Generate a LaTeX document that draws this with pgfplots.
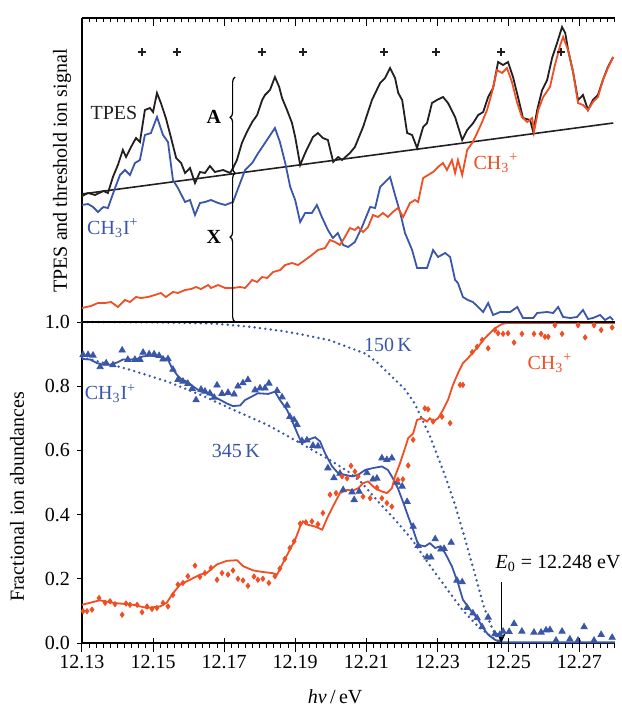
\documentclass[border=0pt]{standalone}
\usepackage{fontspec}
\setmainfont{Liberation Serif}
\usepackage{pgfplots}
\pgfplotsset{compat=1.18}
\usetikzlibrary{decorations.pathreplacing,arrows.meta}

\definecolor{cblue}{RGB}{58,86,168}
\definecolor{cred}{RGB}{240,78,35}
\definecolor{cblack}{RGB}{35,31,32}

\pgfplotsset{
  panel/.style={
    scale only axis, width=266.5pt,
    xmin=12.13, xmax=12.28, enlargelimits=false, clip=false,
    tick style={line width=0.5pt, black},
    xtick={12.13,12.15,12.17,12.19,12.21,12.23,12.25,12.27},
    minor xtick={12.130,12.132,...,12.2805},
    tick label style={font=\fontsize{10}{12}\selectfont},
    label style={font=\fontsize{10}{12}\selectfont},
    /pgf/number format/assume math mode=true,
  },
  noarrows/.style={
    axis line style={-, line width=0.7pt},
    every outer x axis line/.append style={-},
    every outer y axis line/.append style={-},
    every inner x axis line/.append style={-},
    every inner y axis line/.append style={-},
  },
  dotline/.style={cblue, line width=1.35pt, line cap=round, dash pattern=on 0pt off 2.7pt},
  fitline/.style={line width=0.9pt},
}

\begin{document}
\begin{tikzpicture}
% ---- lower panel: fractional abundances
\begin{axis}[panel, at={(0,0)}, anchor=south west, height=160.5pt,
  ymin=0, ymax=1,
  axis lines=left, noarrows,
  xtick align=outside, ytick align=outside,
  major tick length=2.5pt, minor tick length=2.5pt,
  ytick={0,0.2,0.4,0.6,0.8,1.0},
  xticklabel style={/pgf/number format/.cd, fixed, fixed zerofill, precision=2},
  yticklabel style={/pgf/number format/.cd, fixed, fixed zerofill, precision=1},
  xlabel={{\itshape hν}\,/\,eV},
  xlabel style={at={(axis description cs:0.475,-0.168)}, anchor=center},
  ylabel={Fractional ion abundances},
  ylabel style={at={(axis description cs:-0.122,0.455)}, anchor=center},
]
\addplot[dotline] coordinates {
  (12.1300,1.000) (12.1500,0.999) (12.1600,0.997) (12.1674,0.995) (12.1773,0.985)
  (12.1863,0.972) (12.1914,0.962) (12.1998,0.943) (12.2040,0.925) (12.2097,0.902)
  (12.2133,0.872) (12.2172,0.830) (12.2209,0.790) (12.2237,0.745) (12.2279,0.645)
  (12.2322,0.520) (12.2350,0.430) (12.2379,0.320) (12.2407,0.210) (12.2429,0.120)
  (12.2449,0.060) (12.2468,0.015) (12.2480,0.000) };
\addplot[dotline] coordinates {
  (12.1300,0.890) (12.1427,0.854) (12.1539,0.815) (12.1632,0.774) (12.1725,0.727)
  (12.1821,0.680) (12.1914,0.623) (12.1998,0.570) (12.2049,0.534) (12.2088,0.498)
  (12.2133,0.441) (12.2181,0.384) (12.2229,0.322) (12.2274,0.249) (12.2322,0.176)
  (12.2370,0.104) (12.2407,0.060) (12.2434,0.035) (12.2462,0.012) (12.2480,0.000) };
\addplot[cblue, fitline] coordinates {
  (12.1300,0.885) (12.1323,0.883) (12.1342,0.872) (12.1360,0.867) (12.1379,0.867)
  (12.1399,0.874) (12.1415,0.883) (12.1435,0.883) (12.1455,0.885) (12.1472,0.893)
  (12.1491,0.895) (12.1511,0.893) (12.1528,0.888) (12.1542,0.883) (12.1553,0.857)
  (12.1567,0.836) (12.1581,0.820) (12.1595,0.815) (12.1612,0.800) (12.1632,0.784)
  (12.1652,0.779) (12.1669,0.769) (12.1688,0.758) (12.1708,0.746) (12.1725,0.738)
  (12.1745,0.740) (12.1759,0.757) (12.1773,0.765) (12.1795,0.778) (12.1824,0.776)
  (12.1843,0.783) (12.1857,0.757) (12.1877,0.726) (12.1894,0.685) (12.1908,0.648)
  (12.1919,0.622) (12.1936,0.633) (12.1956,0.641) (12.1970,0.628) (12.1984,0.591)
  (12.2004,0.550) (12.2021,0.529) (12.2040,0.524) (12.2060,0.519) (12.2077,0.524)
  (12.2097,0.539) (12.2119,0.545) (12.2144,0.550) (12.2161,0.539) (12.2175,0.513)
  (12.2189,0.482) (12.2203,0.441) (12.2218,0.394) (12.2232,0.353) (12.2246,0.306)
  (12.2265,0.301) (12.2279,0.311) (12.2294,0.296) (12.2308,0.301) (12.2322,0.280)
  (12.2341,0.239) (12.2358,0.187) (12.2372,0.135) (12.2392,0.104) (12.2412,0.078)
  (12.2429,0.047) (12.2443,0.026) (12.2462,0.010) (12.2482,0.002) (12.2800,0.002) };
\addplot[cred, fitline] coordinates {
  (12.1300,0.119) (12.1350,0.133) (12.1388,0.125) (12.1444,0.119) (12.1483,0.109)
  (12.1520,0.114) (12.1538,0.125) (12.1557,0.156) (12.1576,0.182) (12.1604,0.197)
  (12.1632,0.213) (12.1651,0.218) (12.1680,0.245) (12.1708,0.256) (12.1736,0.258)
  (12.1754,0.239) (12.1782,0.226) (12.1810,0.221) (12.1835,0.218) (12.1849,0.213)
  (12.1863,0.244) (12.1880,0.280) (12.1900,0.322) (12.1914,0.363) (12.1922,0.379)
  (12.1936,0.368) (12.1956,0.363) (12.1976,0.353) (12.1992,0.394) (12.2006,0.425)
  (12.2026,0.467) (12.2046,0.477) (12.2063,0.475) (12.2077,0.482) (12.2091,0.498)
  (12.2105,0.503) (12.2125,0.482) (12.2144,0.472) (12.2158,0.467) (12.2172,0.482)
  (12.2181,0.519) (12.2195,0.560) (12.2209,0.607) (12.2218,0.638) (12.2232,0.653)
  (12.2243,0.695) (12.2257,0.700) (12.2271,0.690) (12.2279,0.700) (12.2288,0.690)
  (12.2302,0.700) (12.2316,0.726) (12.2330,0.757) (12.2344,0.804) (12.2358,0.840)
  (12.2372,0.872) (12.2386,0.887) (12.2400,0.905) (12.2415,0.923) (12.2429,0.944)
  (12.2443,0.960) (12.2462,0.980) (12.2482,0.994) (12.2499,0.997) (12.2800,0.997) };
% CH3I+ points
\addplot[only marks, mark=triangle*, mark size=1.8pt, cblue] coordinates {
  (12.1303,0.898) (12.1317,0.898) (12.1331,0.896) (12.1351,0.860) (12.1368,0.872)
  (12.1387,0.866) (12.1413,0.912) (12.1429,0.883) (12.1449,0.883) (12.1463,0.883)
  (12.1472,0.905) (12.1489,0.900) (12.1503,0.900) (12.1517,0.895) (12.1528,0.884)
  (12.1542,0.885) (12.1556,0.852) (12.1570,0.820) (12.1584,0.815) (12.1598,0.808)
  (12.1610,0.792) (12.1621,0.757) (12.1635,0.790) (12.1646,0.784) (12.1660,0.778)
  (12.1672,0.765) (12.1680,0.803) (12.1694,0.777) (12.1711,0.780) (12.1728,0.775)
  (12.1739,0.800) (12.1753,0.810) (12.1767,0.820) (12.1787,0.788) (12.1801,0.794)
  (12.1815,0.794) (12.1826,0.809) (12.1849,0.786) (12.1863,0.766) (12.1877,0.740)
  (12.1885,0.705) (12.1897,0.695) (12.1905,0.680) (12.1919,0.630) (12.1933,0.632)
  (12.1950,0.615) (12.1964,0.613) (12.1992,0.545) (12.2009,0.514) (12.2026,0.528)
  (12.2035,0.477) (12.2060,0.470) (12.2066,0.446) (12.2080,0.472) (12.2102,0.530)
  (12.2119,0.510) (12.2130,0.513) (12.2144,0.576) (12.2158,0.571) (12.2172,0.576)
  (12.2187,0.500) (12.2201,0.488) (12.2215,0.440) (12.2232,0.363) (12.2246,0.303)
  (12.2271,0.267) (12.2282,0.267) (12.2294,0.324) (12.2310,0.292) (12.2319,0.294)
  (12.2339,0.313) (12.2355,0.195) (12.2370,0.190) (12.2384,0.110) (12.2400,0.093)
  (12.2412,0.078) (12.2426,0.050) (12.2443,0.080) (12.2462,0.028) (12.2476,0.026)
  (12.2485,0.036) (12.2502,0.035) (12.2516,0.060) (12.2538,0.036) (12.2572,0.033)
  (12.2592,0.033) (12.2606,0.040) (12.2617,0.041) (12.2634,0.008) (12.2651,0.036)
  (12.2673,0.012) (12.2696,0.008) (12.2713,0.050) (12.2741,0.008) (12.2761,0.026)
  (12.2792,0.017) };
% CH3+ points
\addplot[only marks, mark=diamond*, mark size=1.3pt, cred] coordinates {
  (12.1303,0.099) (12.1314,0.099) (12.1328,0.104) (12.1348,0.140) (12.1365,0.125)
  (12.1379,0.130) (12.1393,0.121) (12.1413,0.088) (12.1424,0.123) (12.1435,0.119)
  (12.1455,0.119) (12.1469,0.096) (12.1483,0.114) (12.1497,0.106) (12.1511,0.109)
  (12.1528,0.125) (12.1542,0.114) (12.1556,0.150) (12.1570,0.182) (12.1584,0.187)
  (12.1598,0.208) (12.1618,0.241) (12.1632,0.206) (12.1646,0.218) (12.1663,0.234)
  (12.1680,0.197) (12.1694,0.218) (12.1711,0.213) (12.1725,0.226) (12.1739,0.200)
  (12.1753,0.195) (12.1767,0.178) (12.1784,0.207) (12.1795,0.197) (12.1809,0.200)
  (12.1826,0.187) (12.1843,0.208) (12.1857,0.232) (12.1871,0.262) (12.1885,0.296)
  (12.1897,0.317) (12.1914,0.372) (12.1930,0.376) (12.1947,0.379) (12.1964,0.370)
  (12.1978,0.405) (12.1998,0.462) (12.2015,0.467) (12.2032,0.519) (12.2046,0.513)
  (12.2057,0.552) (12.2068,0.534) (12.2077,0.519) (12.2091,0.456) (12.2111,0.451)
  (12.2130,0.484) (12.2144,0.451) (12.2158,0.436) (12.2172,0.425) (12.2189,0.508)
  (12.2203,0.510) (12.2218,0.553) (12.2232,0.633) (12.2265,0.731) (12.2274,0.728)
  (12.2288,0.690) (12.2313,0.705) (12.2336,0.685) (12.2364,0.804) (12.2372,0.804)
  (12.2398,0.906) (12.2412,0.923) (12.2426,0.944) (12.2443,0.918) (12.2462,0.975)
  (12.2471,0.965) (12.2485,0.963) (12.2499,0.965) (12.2516,0.936) (12.2538,0.963)
  (12.2572,0.963) (12.2592,0.963) (12.2603,0.954) (12.2612,0.954) (12.2631,0.990)
  (12.2651,0.963) (12.2696,0.990) (12.2716,0.952) (12.2741,0.990) (12.2761,0.975)
  (12.2792,0.983) };
\draw[line width=0.7pt] (axis cs:12.13,1) -- (axis cs:12.28,1);
\node[cblue] at (axis cs:12.1380,0.778) {CH\textsubscript{3}I\textsuperscript{+}};
\node[cblue] at (axis cs:12.1733,0.597) {345\,K};
\node[cblue] at (axis cs:12.2161,0.928) {150\,K};
\node[cred] at (axis cs:12.2617,0.872) {CH\textsubscript{3}\textsuperscript{+}};
\node at (axis cs:12.2640,0.249) {\textit{E}\textsubscript{0} = 12.248 eV};
\draw[-{Stealth[length=5pt,width=4.5pt]}, line width=0.5pt] (axis cs:12.248,0.19) -- (axis cs:12.248,0.0);
\end{axis}

% long crossing major ticks on the lower x axis
\begin{axis}[panel, at={(0,0)}, anchor=south west, height=160.5pt,
  ymin=0, ymax=1, axis lines=left, axis line style={draw=none},
  ytick=\empty, xticklabels={}, minor xtick={},
  xtick align=center, major tick length=7pt,
  every major x tick/.append style={yshift=-1pt},
]
\end{axis}

% ---- upper panel: TPES and threshold ion signal
\begin{axis}[panel, at={(0,160.5pt)}, anchor=south west, height=152pt,
  ymin=0, ymax=304,
  axis x line=top, axis y line=left, noarrows,
  ytick=\empty, xticklabels={},
  xtick align=inside, major tick length=4pt, minor tick length=2pt,
  ylabel={TPES and threshold ion signal},
  ylabel style={at={(axis description cs:-0.0375,0.497)}, anchor=center},
]
\addplot[cblack, line width=0.8pt] coordinates {(12.1300,128) (12.2795,199)};
\addplot[cblack, fitline] coordinates {
  (12.1300,126) (12.1317,129) (12.1337,127) (12.1360,131) (12.1373,129) (12.1387,145)
  (12.1401,157) (12.1415,172) (12.1424,165) (12.1438,175) (12.1452,184) (12.1463,180)
  (12.1477,212) (12.1491,214) (12.1500,210) (12.1511,229) (12.1522,219) (12.1536,204)
  (12.1550,185) (12.1565,164) (12.1579,159) (12.1590,149) (12.1604,154) (12.1618,139)
  (12.1632,150) (12.1646,149) (12.1660,156) (12.1674,150) (12.1697,152) (12.1717,149)
  (12.1725,154) (12.1736,162) (12.1750,179) (12.1764,190) (12.1779,200) (12.1793,207)
  (12.1807,222) (12.1815,227) (12.1829,232) (12.1843,245) (12.1855,235) (12.1863,224)
  (12.1877,212) (12.1891,199) (12.1900,185) (12.1914,157) (12.1928,169) (12.1950,185)
  (12.1964,189) (12.1978,184) (12.1992,182) (12.2007,160) (12.2021,165) (12.2032,162)
  (12.2054,169) (12.2068,175) (12.2091,195) (12.2116,222) (12.2139,239) (12.2153,244)
  (12.2167,254) (12.2181,244) (12.2190,229) (12.2201,222) (12.2215,189) (12.2229,187)
  (12.2243,174) (12.2260,195) (12.2271,199) (12.2285,219) (12.2299,222) (12.2316,225)
  (12.2330,219) (12.2350,205) (12.2370,182) (12.2384,192) (12.2401,199) (12.2415,207)
  (12.2429,210) (12.2443,225) (12.2457,234) (12.2471,260) (12.2485,257) (12.2499,260)
  (12.2513,245) (12.2527,225) (12.2541,204) (12.2561,202) (12.2570,190) (12.2581,212)
  (12.2595,232) (12.2609,242) (12.2623,264) (12.2637,279) (12.2651,295) (12.2660,289)
  (12.2668,272) (12.2682,250) (12.2696,222) (12.2710,227) (12.2724,212) (12.2738,222)
  (12.2752,227) (12.2766,242) (12.2780,255) (12.2795,265) };
\addplot[cblue, fitline] coordinates {
  (12.1300,117) (12.1317,118) (12.1331,115) (12.1345,110) (12.1360,115) (12.1373,114)
  (12.1393,134) (12.1407,147) (12.1421,152) (12.1435,147) (12.1449,159) (12.1463,162)
  (12.1477,187) (12.1494,189) (12.1511,205) (12.1528,187) (12.1542,180) (12.1556,142)
  (12.1570,134) (12.1590,120) (12.1604,122) (12.1618,107) (12.1632,119) (12.1646,120)
  (12.1663,122) (12.1683,119) (12.1703,117) (12.1725,120) (12.1745,139) (12.1759,152)
  (12.1779,159) (12.1796,169) (12.1815,179) (12.1843,194) (12.1857,180) (12.1872,159)
  (12.1886,135) (12.1900,122) (12.1914,100) (12.1928,109) (12.1947,109) (12.1961,117)
  (12.1975,105) (12.1992,92) (12.2006,84) (12.2020,89) (12.2035,77) (12.2049,75)
  (12.2068,80) (12.2088,95) (12.2111,115) (12.2125,114) (12.2139,135) (12.2153,140)
  (12.2167,145) (12.2181,127) (12.2195,110) (12.2209,89) (12.2229,72) (12.2243,54)
  (12.2271,54) (12.2288,72) (12.2302,65) (12.2322,69) (12.2336,65) (12.2350,42)
  (12.2358,39) (12.2372,25) (12.2386,22) (12.2400,20) (12.2415,15) (12.2429,10)
  (12.2443,19) (12.2457,7) (12.2477,10) (12.2505,10) (12.2525,15) (12.2541,4)
  (12.2570,4) (12.2581,9) (12.2609,10) (12.2626,9) (12.2640,15) (12.2654,5)
  (12.2674,4) (12.2693,5) (12.2710,12) (12.2724,3) (12.2738,4) (12.2758,7)
  (12.2772,2) (12.2786,5) (12.2795,2) };
\addplot[cred, fitline] coordinates {
  (12.1300,14) (12.1325,16) (12.1345,19) (12.1365,19) (12.1382,20) (12.1401,15)
  (12.1421,22) (12.1435,20) (12.1452,25) (12.1466,24) (12.1486,25) (12.1505,27)
  (12.1522,29) (12.1536,25) (12.1556,30) (12.1570,29) (12.1590,32) (12.1607,33)
  (12.1621,35) (12.1635,33) (12.1655,37) (12.1663,34) (12.1683,37) (12.1703,34)
  (12.1725,34) (12.1745,35) (12.1759,34) (12.1779,42) (12.1793,40) (12.1807,45)
  (12.1821,44) (12.1838,50) (12.1858,52) (12.1872,57) (12.1891,59) (12.1908,57)
  (12.1928,62) (12.1947,67) (12.1964,72) (12.1984,74) (12.1998,82) (12.2012,80)
  (12.2026,77) (12.2040,85) (12.2054,94) (12.2068,92) (12.2077,95) (12.2091,90)
  (12.2105,95) (12.2119,107) (12.2133,105) (12.2147,109) (12.2161,105) (12.2175,110)
  (12.2189,114) (12.2204,105) (12.2223,119) (12.2237,122) (12.2246,120) (12.2260,144)
  (12.2274,147) (12.2288,150) (12.2302,155) (12.2316,159) (12.2327,152) (12.2341,162)
  (12.2350,149) (12.2358,162) (12.2370,147) (12.2384,172) (12.2398,179) (12.2412,189)
  (12.2426,200) (12.2440,212) (12.2454,230) (12.2468,252) (12.2482,249) (12.2496,254)
  (12.2510,240) (12.2524,220) (12.2538,205) (12.2553,200) (12.2567,204) (12.2572,190)
  (12.2584,212) (12.2598,225) (12.2617,235) (12.2631,257) (12.2646,277) (12.2654,285)
  (12.2668,272) (12.2682,250) (12.2696,219) (12.2710,217) (12.2724,212) (12.2738,220)
  (12.2752,225) (12.2766,242) (12.2780,254) (12.2795,265) };
\addplot[only marks, mark=+, mark size=2pt, line width=1.1pt, cblack] coordinates {
  (12.1469,270) (12.1567,270) (12.1807,270) (12.1922,270)
  (12.2150,270) (12.2296,270) (12.2479,270) (12.2648,270) };
\draw[line width=0.6pt, decorate, decoration={brace, amplitude=2.5pt, aspect=0.58}]
  (axis cs:12.1731,149) -- (axis cs:12.1731,245);
\draw[line width=0.6pt, decorate, decoration={brace, amplitude=2.5pt, aspect=0.57}]
  (axis cs:12.1731,0) -- (axis cs:12.1731,149);
\node[anchor=east, font=\bfseries] at (axis cs:12.1711,205) {A};
\node[anchor=east, font=\bfseries] at (axis cs:12.1711,85) {X};
\node[cblack] at (axis cs:12.1390,209) {TPES};
\node[cblue] at (axis cs:12.1387,94) {CH\textsubscript{3}I\textsuperscript{+}};
\node[cred] at (axis cs:12.2465,159) {CH\textsubscript{3}\textsuperscript{+}};
\end{axis}
\pgfresetboundingbox
\path[use as bounding box] (-41pt,-35.5pt) rectangle (270pt,321.5pt);
\end{tikzpicture}
\end{document}
